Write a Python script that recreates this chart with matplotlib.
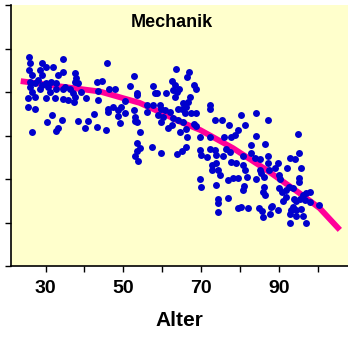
import matplotlib
matplotlib.use('Agg')
import matplotlib.pyplot as plt
import numpy as np

plt.rcParams['font.family'] = ['Liberation Sans', 'DejaVu Sans']

# scatter data (age, score), grouped by region
ages_young = [25.7, 26.0, 29.1, 34.5, 30.2, 32.0, 34.5, 37.5, 25.7, 28.5,
              26.4, 29.0, 33.2, 37.9, 26.0, 27.2, 28.1, 30.2, 31.5, 26.0,
              29.0, 30.7, 32.8, 37.5, 38.4, 43.1, 35.0, 36.2, 26.4, 31.1,
              28.5, 32.8, 34.5, 37.1, 39.1, 43.5, 25.5, 27.2, 30.2, 32.4,
              34.5, 35.8, 37.5, 37.4, 40.5, 43.5, 25.5, 27.4, 31.7, 30.4,
              34.1, 33.2, 32.8, 38.4, 40.8, 42.5, 40.1, 43.1, 26.4]
scores_young = [4.80, 4.67, 4.67, 4.77, 4.57, 4.57, 4.47, 4.43, 4.51, 4.51,
                4.39, 4.39, 4.39, 4.32, 4.24, 4.20, 4.28, 4.20, 4.24, 4.12,
                4.16, 4.12, 4.20, 4.24, 4.20, 4.22, 4.12, 4.08, 4.01, 4.01,
                4.08, 4.08, 4.06, 3.97, 4.01, 4.03, 3.86, 3.89, 3.86, 3.86,
                3.83, 3.82, 3.89, 3.78, 3.86, 3.82, 3.65, 3.60, 3.47, 3.30,
                3.36, 3.17, 3.11, 3.33, 3.33, 3.49, 3.18, 3.20, 3.09]

ages_mid = [45.8, 52.7, 44.4, 51.7, 46.4, 47.8, 53.6, 53.4, 50.4, 46.1,
            47.4, 48.7, 49.5, 50.4, 46.1, 48.7, 52.7, 53.0, 53.0, 49.1,
            53.4, 45.5, 54.4, 56.0, 56.0, 57.7, 58.1, 58.7, 57.7, 59.4,
            59.8, 60.7, 59.0, 60.2, 62.0, 62.8, 64.1, 65.4, 61.5, 59.8,
            62.4, 64.5, 63.5, 62.4, 63.2, 62.8, 63.7, 64.4, 61.1, 63.2,
            65.4, 65.8, 66.4, 64.1, 65.2,
            53.4, 54.4, 53.4, 53.0, 53.8, 57.5, 59.8, 63.7, 65.2, 66.1]
scores_mid = [4.67, 4.37, 4.26, 4.14, 4.06, 4.06, 3.98, 3.93, 3.80, 3.62,
              3.65, 3.59, 3.66, 3.51, 3.55, 3.45, 3.59, 3.43, 3.34, 3.28,
              3.30, 3.13, 3.07, 3.70, 3.55, 4.14, 3.97, 3.97, 3.70, 3.70,
              3.60, 3.59, 3.47, 3.43, 3.55, 3.40, 3.36, 3.32, 3.17, 3.32,
              3.24, 3.09, 4.53, 4.25, 4.16, 4.05, 3.99, 4.08, 3.98, 3.89,
              3.74, 3.51, 2.97, 3.60, 3.62,
              2.82, 2.72, 2.64, 2.54, 2.41, 2.74, 2.60, 2.57, 2.64, 2.74]

ages_old = [66.8, 66.5, 68.2, 68.6, 67.1, 66.7, 66.2, 67.5, 68.8, 72.2,
            72.2, 73.7, 75.4, 77.1, 80.2, 81.2, 84.2, 87.1, 79.5, 78.7,
            77.8, 68.2, 68.8, 66.2, 69.7, 72.2, 75.9, 84.2, 94.9,
            82.9, 86.4, 69.7, 70.1, 71.4, 72.2, 73.5, 73.9, 75.7, 76.5,
            77.4, 80.8, 82.9, 83.8, 85.1, 87.1, 72.7, 72.7, 73.9, 74.4,
            77.8, 79.1, 80.8, 81.2, 87.1, 69.7, 69.9, 73.9, 74.8, 76.9,
            78.2, 79.5, 81.7, 84.2, 85.1, 85.5, 86.2, 85.9, 86.4, 81.1,
            80.8, 74.4, 74.4, 76.8, 74.4, 79.5, 80.2, 82.1, 84.8, 85.7,
            85.9, 87.9, 87.7]
scores_old = [4.47, 4.34, 4.16, 4.06, 3.89, 3.78, 3.66, 3.51, 3.52, 3.70,
              3.62, 3.36, 3.36, 3.24, 3.46, 3.24, 3.51, 3.36, 3.13, 3.01,
              2.96, 3.26, 3.22, 3.14, 2.96, 2.96, 2.96, 2.99, 3.03,
              2.78, 2.80, 2.67, 2.55, 2.51, 2.69, 2.67, 2.55, 2.54, 2.69,
              2.63, 2.54, 2.59, 2.49, 2.47, 2.54, 2.32, 2.21, 2.36, 2.21,
              2.40, 2.36, 2.32, 2.21, 2.36, 2.01, 1.82, 1.86, 2.09, 1.98,
              2.02, 2.02, 2.05, 2.01, 2.21, 2.13, 1.82, 1.71, 1.63, 1.85,
              1.75, 1.55, 1.44, 1.57, 1.25, 1.34, 1.36, 1.34, 1.34, 1.26,
              1.13, 1.36, 1.19]

ages_oldest = [95.2, 94.1, 92.8, 95.8, 92.1, 89.8, 88.9, 87.5, 86.1, 90.1,
               90.2, 95.2, 95.2, 90.1, 90.7, 91.9, 92.6, 93.7, 91.9, 91.1,
               93.8, 94.5, 95.4, 96.1, 96.9, 97.9, 96.7, 97.9, 100.3, 93.7,
               93.2, 94.5, 95.8, 92.8, 94.5, 96.2, 97.1, 88.3, 89.8, 92.8]
scores_oldest = [2.59, 2.47, 2.49, 2.26, 2.26, 2.36, 2.26, 2.21, 2.05, 2.09,
                 2.01, 2.03, 1.94, 1.79, 1.69, 1.75, 1.82, 1.79, 1.59, 1.49,
                 1.55, 1.49, 1.55, 1.63, 1.67, 1.71, 1.52, 1.48, 1.40, 1.36,
                 1.29, 1.29, 1.32, 1.19, 1.16, 1.16, 1.00, 1.39, 1.29, 1.00]

# smoothed trend line
trend_age = [23.6, 31.1, 44.0, 54.2, 61.1, 64.5, 69.7, 78.2, 86.8, 95.4, 100.5, 105.7]
trend_score = [4.25, 4.16, 4.01, 3.75, 3.47, 3.32, 3.13, 2.71, 2.21, 1.67, 1.33, 0.83]

x_ticks = [30, 40, 50, 60, 70, 80, 90, 100]
x_labels = ['30', '', '50', '', '70', '', '90', '']

ages = np.concatenate([ages_young, ages_mid, ages_old, ages_oldest])
scores = np.concatenate([scores_young, scores_mid, scores_old, scores_oldest])

fig = plt.figure(figsize=(3.48, 3.38), dpi=100)
ax = fig.add_axes([11 / 348, 72 / 338, 337 / 348, 261 / 338])
ax.set_facecolor('#FFFFCC')

ax.plot(trend_age, trend_score, color='#FF0099', lw=4.2, solid_capstyle='butt', zorder=2)
ax.scatter(ages, scores, s=25, c='#0000CC', linewidths=0, zorder=3)

ax.set_xlim(21.1, 107.8)
ax.set_ylim(0, 6)
ax.set_xticks(x_ticks)
ax.set_xticklabels(x_labels, fontsize=14, fontweight='bold')
ax.set_yticks(range(7))
ax.set_yticklabels([])
ax.tick_params(direction='out', length=4, width=1, colors='black', pad=6)

for side in ['top', 'right']:
    ax.spines[side].set_visible(False)
for side in ['left', 'bottom']:
    ax.spines[side].set_linewidth(1.2)

ax.text(0.477, 0.932, 'Mechanik', transform=ax.transAxes, ha='center', va='center',
        fontsize=13, fontweight='bold')
fig.text(179 / 348, 1 - 321 / 338, 'Alter', ha='center', va='center',
         fontsize=15, fontweight='bold')

fig.savefig('out.png', dpi=100)
